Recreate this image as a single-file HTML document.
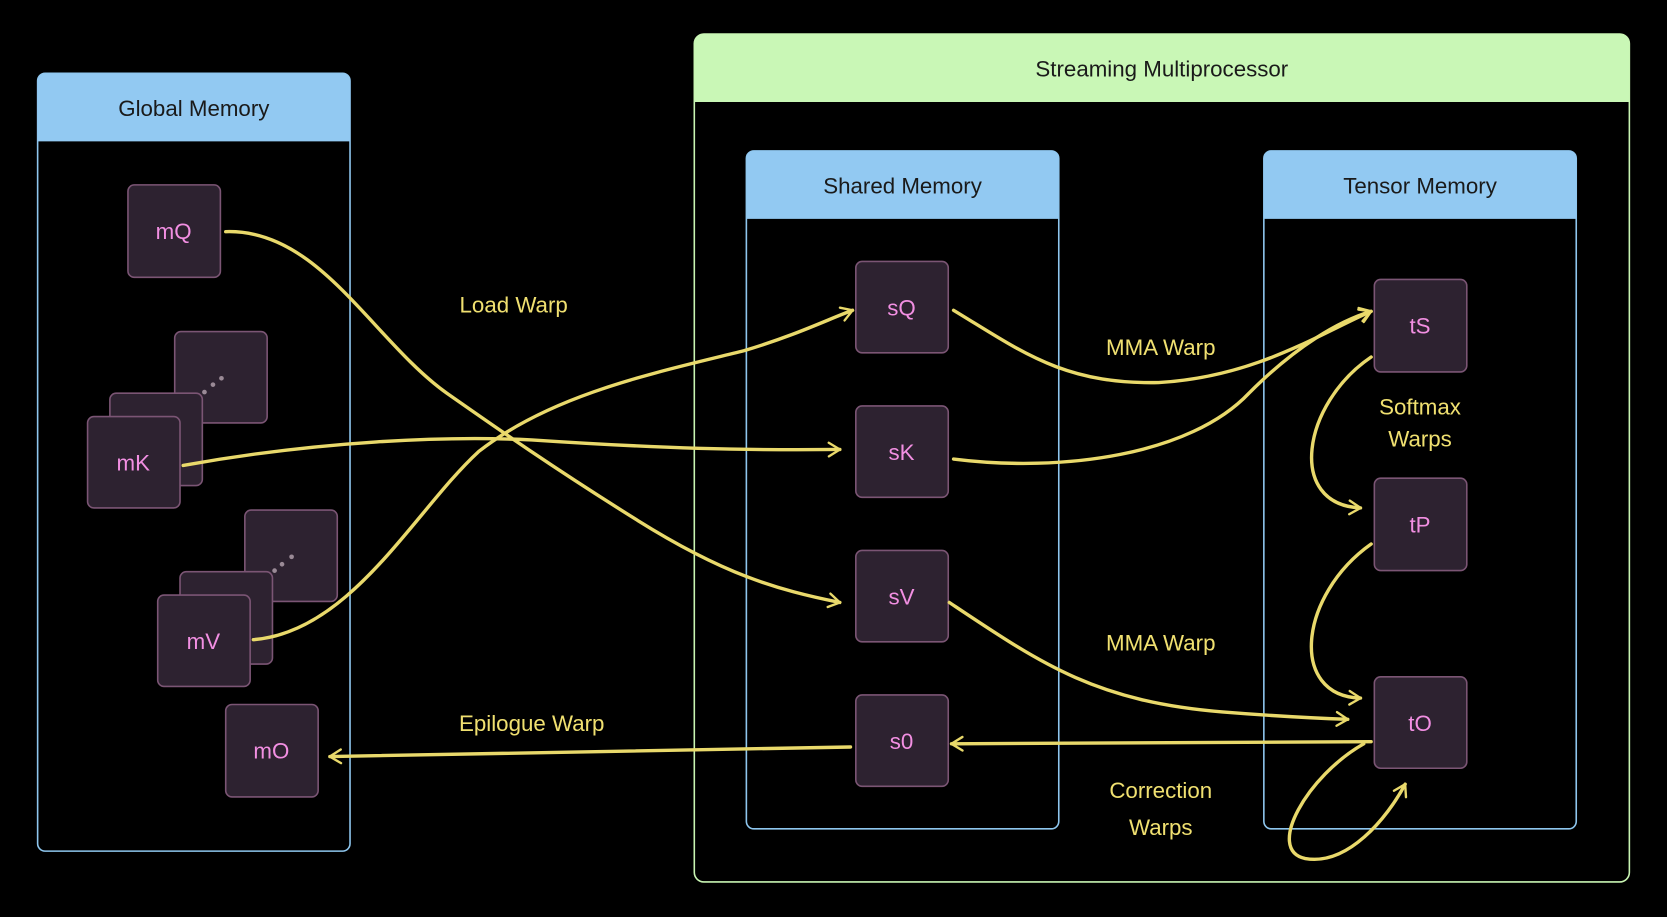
<!DOCTYPE html>
<html><head><meta charset="utf-8"><style>
html,body{margin:0;padding:0;background:#000;}
svg{display:block;}
text{font-family:"Liberation Sans",sans-serif;}
</style></head><body>
<svg width="1667" height="917" viewBox="0 0 1568 863" xmlns="http://www.w3.org/2000/svg">
<defs>
<marker id="a" viewBox="0 0 20 20" refX="17" refY="10" markerWidth="16" markerHeight="16" markerUnits="userSpaceOnUse" orient="auto">
<path d="M4,2 L17,10 L4,18" fill="none" stroke="#e9d96b" stroke-width="2.8" stroke-linecap="round" stroke-linejoin="round"/>
</marker>
</defs>
<rect width="1568" height="863" fill="#000"/>
<rect x="35" y="69" width="294" height="732" rx="7" fill="none" stroke="#8ec6ee" stroke-width="1.5"/>
<path d="M35,133 V76 a7,7 0 0 1 7,-7 H322 a7,7 0 0 1 7,7 V133 Z" fill="#92c9f2"/>
<text x="182" y="109" font-size="21" text-anchor="middle" fill="#1a1a1a">Global Memory</text>
<rect x="653" y="32" width="880" height="798" rx="9" fill="none" stroke="#c8f4b2" stroke-width="1.5"/>
<path d="M653,96 V41 a9,9 0 0 1 9,-9 H1524 a9,9 0 0 1 9,9 V96 Z" fill="#c9f7b6"/>
<text x="1093" y="72" font-size="21" text-anchor="middle" fill="#1a1a1a">Streaming Multiprocessor</text>
<rect x="702" y="142" width="294" height="638" rx="7" fill="none" stroke="#8ec6ee" stroke-width="1.5"/>
<path d="M702,206 V149 a7,7 0 0 1 7,-7 H989 a7,7 0 0 1 7,7 V206 Z" fill="#92c9f2"/>
<text x="849" y="182" font-size="21" text-anchor="middle" fill="#1a1a1a">Shared Memory</text>
<rect x="1189" y="142" width="294" height="638" rx="7" fill="none" stroke="#8ec6ee" stroke-width="1.5"/>
<path d="M1189,206 V149 a7,7 0 0 1 7,-7 H1476 a7,7 0 0 1 7,7 V206 Z" fill="#92c9f2"/>
<text x="1336" y="182" font-size="21" text-anchor="middle" fill="#1a1a1a">Tensor Memory</text>

<g fill="#2d2230" stroke="#7b5574" stroke-width="1.5">
<rect x="120" y="174" width="87" height="87" rx="6"/>
<rect x="164" y="312" width="87" height="86" rx="6"/>
<rect x="103" y="370" width="87" height="87" rx="6"/>
<rect x="82" y="392" width="87" height="86" rx="6"/>
<rect x="230" y="480" width="87" height="86" rx="6"/>
<rect x="169" y="538" width="87" height="87" rx="6"/>
<rect x="148" y="560" width="87" height="86" rx="6"/>
<rect x="212" y="663" width="87" height="87" rx="6"/>
<rect x="805" y="246" width="87" height="86" rx="6"/>
<rect x="805" y="382" width="87" height="86" rx="6"/>
<rect x="805" y="518" width="87" height="86" rx="6"/>
<rect x="805" y="654" width="87" height="86" rx="6"/>
<rect x="1293" y="263" width="87" height="87" rx="6"/>
<rect x="1293" y="450" width="87" height="87" rx="6"/>
<rect x="1293" y="637" width="87" height="86" rx="6"/>
</g>
<g fill="#9a8a96">
<circle cx="192" cy="369" r="2.2"/><circle cx="200" cy="362" r="2.2"/><circle cx="208" cy="356" r="2.2"/>
<circle cx="258" cy="537" r="2.2"/><circle cx="265" cy="531" r="2.2"/><circle cx="274" cy="524" r="2.2"/>
</g>
<g font-size="21" fill="#f28fe2" text-anchor="middle">
<text x="163" y="225">mQ</text>
<text x="125" y="443">mK</text>
<text x="191" y="611">mV</text>
<text x="255" y="714">mO</text>
<text x="848" y="297">sQ</text>
<text x="848" y="433">sK</text>
<text x="848" y="569">sV</text>
<text x="848" y="705">s0</text>
<text x="1336" y="314">tS</text>
<text x="1336" y="501">tP</text>
<text x="1336" y="688">tO</text>
</g>

<g fill="none" stroke="#e9d96b" stroke-width="3.2" stroke-linecap="round">
<path d="M212,218 C300,215 350,320 420,370 C470,405 520,440 600,490 C680,540 730,555 790,567" marker-end="url(#a)"/>
<path d="M172,438 C300,415 420,410 500,414 C620,422 700,424 790,423" marker-end="url(#a)"/>
<path d="M238,602 C330,595 390,480 450,425 C520,370 620,350 700,330 C750,315 780,300 802,292" marker-end="url(#a)"/>
<path d="M897,292 C960,330 1000,362 1090,360 C1180,355 1240,315 1290,293" marker-end="url(#a)"/>
<path d="M897,432 C1000,445 1120,428 1175,370 C1220,325 1260,302 1290,293" marker-end="url(#a)"/>
<path d="M1290,336 C1225,380 1210,475 1280,478" marker-end="url(#a)"/>
<path d="M1290,512 C1222,560 1212,655 1280,657" marker-end="url(#a)"/>
<path d="M893,567 C980,625 1030,660 1150,670 C1200,674 1240,676 1268,677" marker-end="url(#a)"/>
<path d="M1290,698 L895,700" marker-end="url(#a)"/>
<path d="M800,703 C600,706 450,709 310,712" marker-end="url(#a)"/>
<path d="M1283,700 C1230,730 1190,800 1228,808 C1268,815 1305,770 1322,738" marker-end="url(#a)"/>
</g>

<g font-size="21" fill="#f0e070" text-anchor="middle">
<text x="483" y="294">Load Warp</text>
<text x="1092" y="334">MMA Warp</text>
<text x="1336" y="390">Softmax</text>
<text x="1336" y="420">Warps</text>
<text x="1092" y="612">MMA Warp</text>
<text x="500" y="688">Epilogue Warp</text>
<text x="1092" y="751">Correction</text>
<text x="1092" y="786">Warps</text>
</g>
</svg>
</body></html>
